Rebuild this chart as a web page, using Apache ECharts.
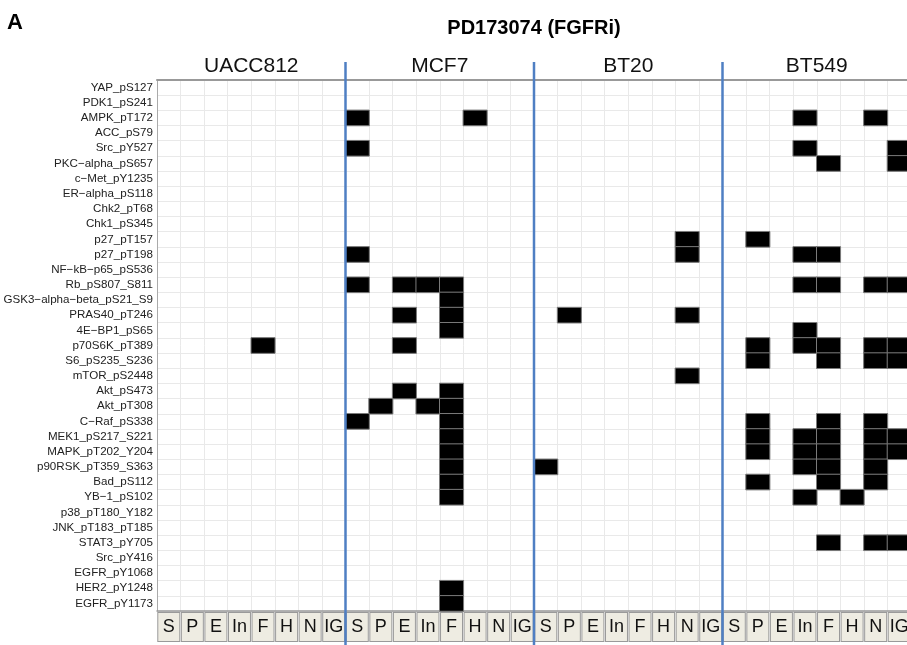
<!DOCTYPE html>
<html>
<head>
<meta charset="utf-8">
<script src="https://cdn.jsdelivr.net/npm/echarts@6/dist/echarts.min.js"></script>
<style>
html,body{margin:0;padding:0;background:#fff;}
#chart{width:907px;height:645px;}
</style>
</head>
<body>
<div id="chart"></div>
<script>
const proteins = ['YAP_pS127','PDK1_pS241','AMPK_pT172','ACC_pS79','Src_pY527','PKC−alpha_pS657','c−Met_pY1235','ER−alpha_pS118','Chk2_pT68','Chk1_pS345','p27_pT157','p27_pT198','NF−kB−p65_pS536','Rb_pS807_S811','GSK3−alpha−beta_pS21_S9','PRAS40_pT246','4E−BP1_pS65','p70S6K_pT389','S6_pS235_S236','mTOR_pS2448','Akt_pS473','Akt_pT308','C−Raf_pS338','MEK1_pS217_S221','MAPK_pT202_Y204','p90RSK_pT359_S363','Bad_pS112','YB−1_pS102','p38_pT180_Y182','JNK_pT183_pT185','STAT3_pY705','Src_pY416','EGFR_pY1068','HER2_pY1248','EGFR_pY1173'];
const conditions = ['S','P','E','In','F','H','N','IG'];
const cellLines = ['UACC812','MCF7','BT20','BT549'];

const hitsUACC812 = [['p70S6K_pT389','F']];
const hitsMCF7 = [
  ['AMPK_pT172','S'],['AMPK_pT172','H'],
  ['Src_pY527','S'],
  ['p27_pT198','S'],
  ['Rb_pS807_S811','S'],['Rb_pS807_S811','E'],['Rb_pS807_S811','In'],['Rb_pS807_S811','F'],
  ['GSK3−alpha−beta_pS21_S9','F'],
  ['PRAS40_pT246','E'],['PRAS40_pT246','F'],
  ['4E−BP1_pS65','F'],
  ['p70S6K_pT389','E'],
  ['Akt_pS473','E'],['Akt_pS473','F'],
  ['Akt_pT308','P'],['Akt_pT308','In'],['Akt_pT308','F'],
  ['C−Raf_pS338','S'],['C−Raf_pS338','F'],
  ['MEK1_pS217_S221','F'],
  ['MAPK_pT202_Y204','F'],
  ['p90RSK_pT359_S363','F'],
  ['Bad_pS112','F'],
  ['YB−1_pS102','F'],
  ['HER2_pY1248','F'],
  ['EGFR_pY1173','F']
];
const hitsBT20 = [
  ['p27_pT157','N'],
  ['p27_pT198','N'],
  ['PRAS40_pT246','P'],['PRAS40_pT246','N'],
  ['mTOR_pS2448','N'],
  ['p90RSK_pT359_S363','S']
];
const hitsBT549 = [
  ['AMPK_pT172','In'],['AMPK_pT172','N'],
  ['Src_pY527','In'],['Src_pY527','IG'],
  ['PKC−alpha_pS657','F'],['PKC−alpha_pS657','IG'],
  ['p27_pT157','P'],
  ['p27_pT198','In'],['p27_pT198','F'],
  ['Rb_pS807_S811','In'],['Rb_pS807_S811','F'],['Rb_pS807_S811','N'],['Rb_pS807_S811','IG'],
  ['4E−BP1_pS65','In'],
  ['p70S6K_pT389','P'],['p70S6K_pT389','In'],['p70S6K_pT389','F'],['p70S6K_pT389','N'],['p70S6K_pT389','IG'],
  ['S6_pS235_S236','P'],['S6_pS235_S236','F'],['S6_pS235_S236','N'],['S6_pS235_S236','IG'],
  ['C−Raf_pS338','P'],['C−Raf_pS338','F'],['C−Raf_pS338','N'],
  ['MEK1_pS217_S221','P'],['MEK1_pS217_S221','In'],['MEK1_pS217_S221','F'],['MEK1_pS217_S221','N'],['MEK1_pS217_S221','IG'],
  ['MAPK_pT202_Y204','P'],['MAPK_pT202_Y204','In'],['MAPK_pT202_Y204','F'],['MAPK_pT202_Y204','N'],['MAPK_pT202_Y204','IG'],
  ['p90RSK_pT359_S363','In'],['p90RSK_pT359_S363','F'],['p90RSK_pT359_S363','N'],
  ['Bad_pS112','P'],['Bad_pS112','F'],['Bad_pS112','N'],
  ['YB−1_pS102','In'],['YB−1_pS102','H'],
  ['STAT3_pY705','F'],['STAT3_pY705','N'],['STAT3_pY705','IG']
];
const hitsByLine = [hitsUACC812, hitsMCF7, hitsBT20, hitsBT549];

// build
const xCats = [];
cellLines.forEach((cl, li) => conditions.forEach((c, ci) => xCats.push(String(li * conditions.length + ci))));
const cells = [];
hitsByLine.forEach((hits, li) => {
  hits.forEach(([p, c]) => {
    cells.push([li * conditions.length + conditions.indexOf(c), proteins.indexOf(p), 1]);
  });
});

const FONT = 'Liberation Sans, Arial, Helvetica, sans-serif';
const chart = echarts.init(document.getElementById('chart'), null, {renderer: 'canvas'});
const option = {
  animation: false,
  backgroundColor: '#ffffff',
  textStyle: {fontFamily: FONT},
  grid: {left: 157, top: 80, width: 754, height: 531, containLabel: false, outerBoundsMode: 'none'},
  visualMap: {show: false, min: 0, max: 1, inRange: {color: ['#000000', '#000000']}},
  xAxis: [
    {
      type: 'category', data: xCats, position: 'bottom',
      axisLine: {show: true, lineStyle: {color: '#999', width: 1.5}},
      axisTick: {show: false},
      splitLine: {show: true, interval: 0, lineStyle: {color: '#e9e9e9', width: 1}},
      axisLabel: {
        interval: 0, margin: 2,
        formatter: v => conditions[Number(v) % conditions.length],
        fontFamily: FONT, fontSize: 18, color: '#111',
        backgroundColor: '#eeece2', borderColor: '#9a9a9a', borderWidth: 1,
        width: 21, height: 28, lineHeight: 28, align: 'center', padding: 0, overflow: 'none'
      }
    },
    {
      type: 'category', data: cellLines, position: 'top', gridIndex: 0,
      axisLine: {show: true, lineStyle: {color: '#999', width: 2}},
      axisTick: {show: false},
      splitLine: {show: false},
      axisLabel: {interval: 0, margin: 3, fontFamily: FONT, fontSize: 21, color: '#111'}
    }
  ],
  yAxis: {
    type: 'category', data: proteins, inverse: true,
    axisLine: {show: true, lineStyle: {color: '#aaa', width: 1}},
    axisTick: {show: false},
    splitLine: {show: true, interval: 0, lineStyle: {color: '#e9e9e9', width: 1}},
    axisLabel: {interval: 0, margin: 4, fontFamily: FONT, fontSize: 11.6, color: '#222'}
  },
  series: [{
    type: 'heatmap', xAxisIndex: 0, yAxisIndex: 0, data: cells,
    itemStyle: {borderColor: '#7a7a7a', borderWidth: 1},
    emphasis: {disabled: true}
  }]
};
chart.setOption(option);

// panel dividers positioned through the axis scale
const px = i => chart.convertToPixel({xAxisIndex: 0}, i);
const graphics = [];
for (let li = 1; li < cellLines.length; li++) {
  const x = (px(li * conditions.length - 1) + px(li * conditions.length)) / 2;
  graphics.push({type: 'line', shape: {x1: x, y1: 62, x2: x, y2: 645}, style: {stroke: '#4f7fc3', lineWidth: 2.5}, z: 100});
}
const xc = (px(0) + px(xCats.length - 1)) / 2;
graphics.push({type: 'text', x: xc, y: 28, style: {text: 'PD173074 (FGFRi)', font: 'bold 20px ' + FONT, fill: '#000', align: 'center', verticalAlign: 'middle'}, z: 100});
graphics.push({type: 'text', x: 7, y: 23, style: {text: 'A', font: 'bold 22px ' + FONT, fill: '#000', align: 'left', verticalAlign: 'middle'}, z: 100});
chart.setOption({graphic: graphics});
</script>
</body>
</html>
